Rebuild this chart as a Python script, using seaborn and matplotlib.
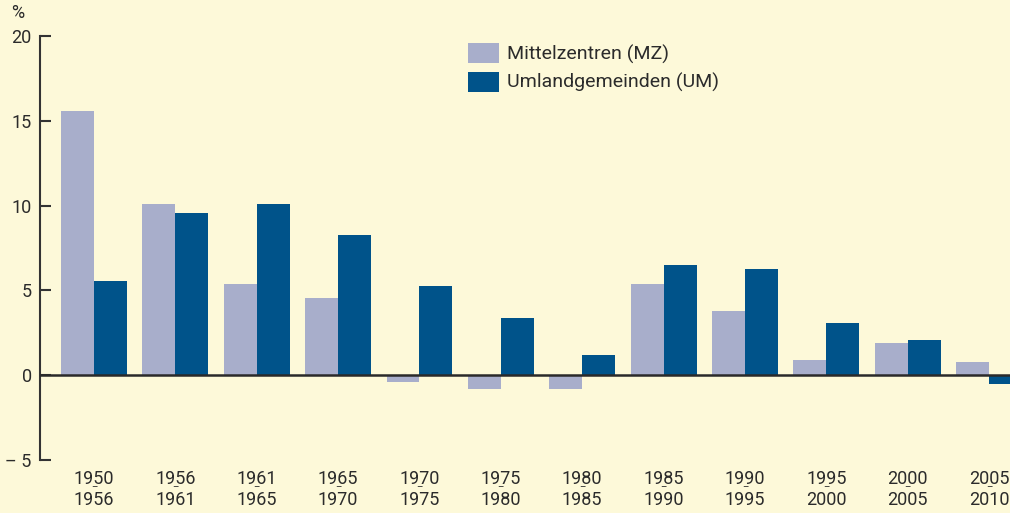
import matplotlib
matplotlib.use("Agg")
import matplotlib.pyplot as plt
import matplotlib.transforms as mtransforms
from matplotlib.patches import Patch
import seaborn as sns
import pandas as pd

periods_start = ["1950", "1956", "1961", "1965", "1970", "1975", "1980", "1985", "1990", "1995", "2000", "2005"]
periods_end = ["1956", "1961", "1965", "1970", "1975", "1980", "1985", "1990", "1995", "2000", "2005", "2010"]
mz_values = [15.6, 10.1, 5.35, 4.55, -0.4, -0.8, -0.8, 5.35, 3.8, 0.9, 1.9, 0.75]
um_values = [5.55, 9.55, 10.1, 8.25, 5.25, 3.35, 1.2, 6.5, 6.25, 3.05, 2.05, -0.5]
series_names = ["Mittelzentren (MZ)", "Umlandgemeinden (UM)"]
y_ticks = [-5, 0, 5, 10, 15, 20]
y_ticklabels = ["– 5", "0", "5", "10", "15", "20"]

bg = "#fdf9d9"
colors = ["#a8aecb", "#00538a"]
txt = "#2b2b2b"

periods = [f"{a}-{b}" for a, b in zip(periods_start, periods_end)]
df = pd.DataFrame({
    "period": periods * 2,
    "value": mz_values + um_values,
    "series": [series_names[0]] * len(periods) + [series_names[1]] * len(periods),
})

sns.set_style("white")
plt.rcParams["font.family"] = ["Roboto", "DejaVu Sans"]

fig = plt.figure(figsize=(10.10, 5.13), dpi=100, facecolor=bg)
ax = fig.add_axes([40 / 1010, 1 - 460 / 513, 1 - 40 / 1010, (460 - 36) / 513])
ax.set_facecolor(bg)

sns.barplot(data=df, x="period", y="value", hue="series", palette=colors,
            saturation=1, width=0.81, linewidth=0, ax=ax, legend=False, errorbar=None)

ax.set_ylim(-5, 20)
ax.set_xlim(-0.664, 11.258)
ax.set_xlabel("")
ax.set_ylabel("")

for s in ["top", "right", "bottom"]:
    ax.spines[s].set_visible(False)
ax.spines["left"].set_color("#333333")
ax.spines["left"].set_linewidth(1.5)
ax.axhline(0, color="#2a2a2a", linewidth=1.8, zorder=5)

ax.set_yticks(y_ticks)
ax.set_yticklabels(y_ticklabels)
ax.tick_params(axis="y", direction="in", length=8, width=1.5, color="#333333",
               labelsize=13, labelcolor=txt, pad=6, left=True)

ax.set_xticks(range(len(periods)))
ax.set_xticklabels([f"{a}\n{b}" for a, b in zip(periods_start, periods_end)],
                   fontsize=13, color=txt, linespacing=1.25)
ax.tick_params(axis="x", length=0, pad=7)

trans = mtransforms.blended_transform_factory(ax.transData, ax.transAxes)
for i in range(len(periods)):
    ax.text(i, -0.0645, "–", transform=trans, ha="center", va="center",
            fontsize=7, color=txt, clip_on=False)

fig.text(18 / 1010, 1 - 13 / 513, "%", ha="center", va="center", fontsize=13, color=txt)

handles = [Patch(facecolor=c, edgecolor="none") for c in colors]
fig.legend(handles, series_names, loc="upper left",
           bbox_to_anchor=(468 / 1010, 1 - 43 / 513), frameon=False,
           borderpad=0, borderaxespad=0,
           fontsize=14, handlelength=1.6, handleheight=1.2, labelspacing=0.4,
           handletextpad=0.42, labelcolor=txt)

fig.savefig("out.png", dpi=100, facecolor=bg)
